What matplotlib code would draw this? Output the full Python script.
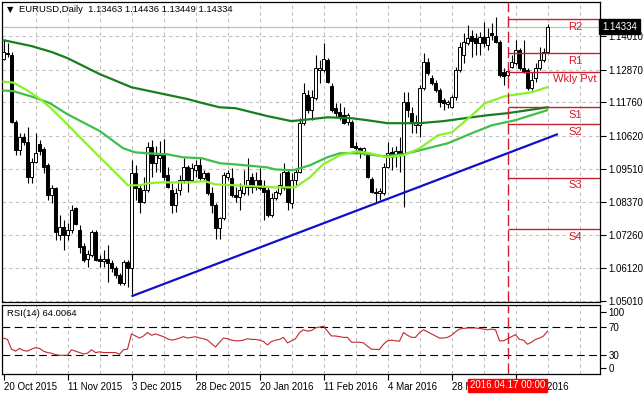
import matplotlib
matplotlib.use('Agg')
import matplotlib.pyplot as plt
import matplotlib.transforms as mtransforms
import numpy as np

plt.rcParams['font.family'] = ['Liberation Sans', 'DejaVu Sans']

# ---- data (EURUSD daily) ----
opens = [1.1323, 1.1343, 1.1337, 1.1109, 1.1013, 1.1058, 1.1041, 1.0922, 1.0973, 1.1034,
         1.1017, 1.0962, 1.0860, 1.0884, 1.0724, 1.0752, 1.0724, 1.0741, 1.0816, 1.0741,
         1.0687, 1.0643, 1.0656, 1.0735, 1.0643, 1.0636, 1.0643, 1.0629, 1.0612, 1.0588,
         1.0561, 1.0633, 1.0612, 1.0935, 1.0884, 1.0837, 1.0877, 1.1024, 1.0969, 1.0986,
         1.0996, 1.0928, 1.0877, 1.0826, 1.0877, 1.0911, 1.0956, 1.0911, 1.0945, 1.0962,
         1.0918, 1.0935, 1.0867, 1.0826, 1.0748, 1.0782, 1.0922, 1.0918, 1.0860, 1.0854,
         1.0867, 1.0888, 1.0922, 1.0888, 1.0911, 1.0888, 1.0877, 1.0792, 1.0850, 1.0867,
         1.0884, 1.0939, 1.0833, 1.0911, 1.0939, 1.1105, 1.1200, 1.1149, 1.1190, 1.1285,
         1.1285, 1.1319, 1.1231, 1.1156, 1.1142, 1.1132, 1.1109, 1.1109, 1.1027, 1.1020,
         1.1010, 1.0996, 1.0915, 1.0871, 1.0867, 1.0867, 1.0956, 1.1007, 1.0996, 1.1010,
         1.1003, 1.1177, 1.1139, 1.1098, 1.1098, 1.1224, 1.1313, 1.1258, 1.1241, 1.1217,
         1.1183, 1.1170, 1.1160, 1.1194, 1.1285, 1.1337, 1.1377, 1.1401, 1.1394, 1.1377,
         1.1398, 1.1370, 1.1411, 1.1401, 1.1381, 1.1279, 1.1268, 1.1296, 1.1309, 1.1353,
         1.1292, 1.1285, 1.1224, 1.1258, 1.1292, 1.1319, 1.13463]
highs = [1.1387, 1.1377, 1.1347, 1.1115, 1.1071, 1.1071, 1.1092, 1.0986, 1.1071, 1.1047,
         1.1024, 1.0969, 1.0894, 1.0888, 1.0792, 1.0775, 1.0765, 1.0826, 1.0820, 1.0758,
         1.0697, 1.0673, 1.0741, 1.0741, 1.0656, 1.0673, 1.0690, 1.0639, 1.0619, 1.0595,
         1.0639, 1.0639, 1.0979, 1.0962, 1.0894, 1.0922, 1.1041, 1.1047, 1.1027, 1.1044,
         1.1051, 1.0956, 1.0901, 1.0884, 1.0928, 1.0986, 1.0962, 1.0969, 1.0979, 1.0990,
         1.0945, 1.0939, 1.0888, 1.0833, 1.0786, 1.0939, 1.0945, 1.0952, 1.0888, 1.0901,
         1.0945, 1.0986, 1.0935, 1.0939, 1.0952, 1.0911, 1.0888, 1.0867, 1.0877, 1.0935,
         1.0969, 1.0945, 1.0935, 1.0952, 1.1122, 1.1241, 1.1217, 1.1217, 1.1337, 1.1319,
         1.1377, 1.1326, 1.1241, 1.1173, 1.1173, 1.1160, 1.1139, 1.1115, 1.1041, 1.1024,
         1.1024, 1.1003, 1.0922, 1.0884, 1.0884, 1.0969, 1.1041, 1.1024, 1.1027, 1.1058,
         1.1211, 1.1211, 1.1160, 1.1132, 1.1234, 1.1343, 1.1326, 1.1268, 1.1251, 1.1224,
         1.1190, 1.1183, 1.1200, 1.1296, 1.1381, 1.1411, 1.1438, 1.1421, 1.1411, 1.1415,
         1.1449, 1.1428, 1.1445, 1.1466, 1.1387, 1.1292, 1.1292, 1.1337, 1.1387, 1.1360,
         1.1387, 1.1292, 1.1279, 1.1309, 1.1364, 1.1360, 1.14436]
lows = [1.1319, 1.1330, 1.1105, 1.0996, 1.0996, 1.1030, 1.0901, 1.0901, 1.0969, 1.0996,
        1.0935, 1.0843, 1.0833, 1.0707, 1.0707, 1.0673, 1.0707, 1.0731, 1.0758, 1.0663,
        1.0633, 1.0616, 1.0650, 1.0636, 1.0616, 1.0616, 1.0565, 1.0599, 1.0578, 1.0554,
        1.0554, 1.0548, 1.0524, 1.0843, 1.0799, 1.0833, 1.0871, 1.0922, 1.0939, 1.0939,
        1.0911, 1.0884, 1.0799, 1.0803, 1.0860, 1.0901, 1.0871, 1.0905, 1.0922, 1.0911,
        1.0911, 1.0860, 1.0799, 1.0711, 1.0711, 1.0775, 1.0911, 1.0854, 1.0837, 1.0809,
        1.0860, 1.0860, 1.0867, 1.0877, 1.0877, 1.0775, 1.0785, 1.0786, 1.0843, 1.0860,
        1.0877, 1.0809, 1.0816, 1.0894, 1.0935, 1.1098, 1.1139, 1.1115, 1.1183, 1.1241,
        1.1279, 1.1241, 1.1142, 1.1126, 1.1115, 1.1102, 1.1098, 1.1024, 1.1003, 1.0986,
        1.0996, 1.0918, 1.0867, 1.0833, 1.0843, 1.0860, 1.0952, 1.0945, 1.0956, 1.0939,
        1.0820, 1.1126, 1.1071, 1.1071, 1.1058, 1.1217, 1.1268, 1.1234, 1.1211, 1.1160,
        1.1149, 1.1156, 1.1156, 1.1183, 1.1279, 1.1309, 1.1370, 1.1330, 1.1337, 1.1337,
        1.1364, 1.1353, 1.1387, 1.1377, 1.1262, 1.1234, 1.1262, 1.1292, 1.1302, 1.1285,
        1.1275, 1.1217, 1.1217, 1.1245, 1.1285, 1.1313, 1.13449]
closes = [1.1347, 1.1340, 1.1109, 1.1013, 1.1058, 1.1041, 1.0922, 1.0973, 1.1003, 1.1010,
          1.0956, 1.0860, 1.0884, 1.0735, 1.0752, 1.0724, 1.0741, 1.0809, 1.0762, 1.0684,
          1.0639, 1.0660, 1.0735, 1.0639, 1.0636, 1.0643, 1.0629, 1.0612, 1.0588, 1.0561,
          1.0633, 1.0612, 1.0935, 1.0884, 1.0837, 1.0877, 1.1024, 1.0969, 1.0996, 1.0996,
          1.0922, 1.0888, 1.0826, 1.0867, 1.0911, 1.0956, 1.0911, 1.0952, 1.0962, 1.0918,
          1.0935, 1.0867, 1.0826, 1.0748, 1.0782, 1.0928, 1.0935, 1.0860, 1.0854, 1.0877,
          1.0894, 1.0911, 1.0888, 1.0911, 1.0884, 1.0871, 1.0792, 1.0850, 1.0871, 1.0894,
          1.0939, 1.0837, 1.0911, 1.0939, 1.1105, 1.1207, 1.1149, 1.1194, 1.1292, 1.1292,
          1.1323, 1.1245, 1.1149, 1.1139, 1.1126, 1.1105, 1.1132, 1.1024, 1.1020, 1.1013,
          1.1020, 1.0922, 1.0871, 1.0867, 1.0874, 1.0956, 1.1003, 1.0990, 1.1010, 1.1003,
          1.1177, 1.1149, 1.1105, 1.1109, 1.1224, 1.1313, 1.1275, 1.1241, 1.1217, 1.1177,
          1.1173, 1.1177, 1.1194, 1.1285, 1.1364, 1.1381, 1.1394, 1.1384, 1.1377, 1.1398,
          1.1377, 1.1398, 1.1404, 1.1381, 1.1268, 1.1265, 1.1282, 1.1313, 1.1353, 1.1292,
          1.1279, 1.1224, 1.1251, 1.1292, 1.1319, 1.1346, 1.14334]

rsi = [54, 52, 38, 35, 39, 36, 35, 38, 40, 39,
       35, 33, 32, 30, 29, 29, 29, 37, 35, 33,
       31, 32, 37, 33, 34, 33, 33, 33, 33, 30.5,
       37, 38, 60, 57, 54, 57, 62, 58, 60, 58,
       56, 53, 51, 52, 54, 56, 54, 55, 56, 54,
       53, 51, 46, 41, 48, 54, 53, 51, 50, 50,
       51, 53, 52, 52, 51, 49, 44, 49, 51, 52,
       55, 47, 50, 53, 62, 66, 64, 65, 68.6, 70,
       71, 64, 57, 57, 56, 55, 55, 48, 48, 48,
       47, 42, 38, 37.6, 37.6, 45, 50, 51, 50, 49.5,
       62, 58, 55, 55, 62, 66, 63, 60, 57, 54,
       54, 55, 58, 63, 67, 68, 68.6, 68.6, 68.6, 68,
       67, 66, 67, 66, 50, 50, 53, 56, 59, 52,
       51, 45, 48, 52, 54, 57, 64]

# moving averages, sampled at bar positions
ma_slow_x = [0, 7, 12, 16, 24, 32, 39, 46, 49, 54, 58, 66, 72, 77, 81, 87, 91, 96, 104, 110, 117, 121, 126, 136]
ma_slow_y = [1.1387, 1.1367, 1.1347, 1.1326, 1.1272, 1.1227, 1.1207, 1.1187, 1.1176, 1.1159, 1.1156, 1.1129,
             1.1112, 1.1119, 1.1125, 1.1122, 1.1115, 1.1105, 1.1105, 1.1112, 1.1125, 1.1132, 1.1139, 1.1159]
ma_mid_x = [0, 2.4, 7.4, 11.6, 15.9, 24.1, 29.9, 32.9, 35.9, 41.1, 44.9, 49.6, 54.1, 57.9, 65.9, 67.9, 72.4,
            76.6, 80.9, 84.1, 89.1, 94.9, 99.9, 104.1, 111.1, 117.1, 122.1, 127.9, 135.9]
ma_mid_y = [1.1216, 1.1214, 1.1194, 1.1173, 1.1136, 1.1078, 1.1020, 1.1006, 1.1003, 1.0999, 1.0989, 1.0986,
            1.0969, 1.0965, 1.0955, 1.0948, 1.0945, 1.0962, 1.0989, 1.1003, 1.1003, 1.0993, 1.0999, 1.1013,
            1.1037, 1.1071, 1.1098, 1.1115, 1.1149]
ma_fast_x = [0, 2.4, 5.9, 9.1, 11.6, 15.9, 19.1, 24.1, 27.9, 31.1, 34.1, 36.1, 39.6, 46.1, 50.4, 52.9, 57.9,
             67.9, 72.9, 76.6, 79.9, 84.1, 88.4, 91.6, 95.9, 99.9, 104.1, 108.6, 112.1, 117.1, 120.4, 125.4,
             132.1, 135.9]
ma_fast_y = [1.1246, 1.1243, 1.1217, 1.1187, 1.1159, 1.1102, 1.1057, 1.0989, 1.0938, 1.0894, 1.0894, 1.0901,
             1.0904, 1.0904, 1.0908, 1.0897, 1.0894, 1.0887, 1.0887, 1.0921, 1.0965, 1.0996, 1.1010, 1.1003,
             1.0989, 1.0996, 1.1020, 1.1064, 1.1074, 1.1132, 1.1173, 1.1197, 1.1210, 1.1227]

trend_x = [32, 138.6]
trend_y = [1.0517, 1.1068]

pivot_names = ['R2', 'R1', 'Wkly Pvt', 'S1', 'S2', 'S3', 'S4']
pivot_levels = [1.1458, 1.1344, 1.1280, 1.1160, 1.1101, 1.0920, 1.0744]
pivot_start = 126

price_ticks = [1.14010, 1.12870, 1.11760, 1.10620, 1.09510, 1.08370, 1.07260, 1.06120, 1.05010]
date_idx = [0, 16, 32, 48, 64, 80, 96, 112, 128]
date_labels = ['20 Oct 2015', '11 Nov 2015', '3 Dec 2015', '28 Dec 2015', '20 Jan 2016',
               '11 Feb 2016', '4 Mar 2016', '28 Mar 2016', '19 Apr 2016']

# ---- layout in pixels ----
W, H = 643, 397
fig = plt.figure(figsize=(W / 100, H / 100), dpi=100)
fig.patch.set_facecolor('white')


def px_axes(x0, y0, x1, y1):
    return fig.add_axes([x0 / W, 1 - y1 / H, (x1 - x0) / W, (y1 - y0) / H])


ax = px_axes(2, 2, 600, 302)
ax2 = px_axes(2, 305, 600, 374)

opens = np.array(opens)
highs = np.array(highs)
lows = np.array(lows)
closes = np.array(closes)
idx = np.arange(len(closes))

xmin, xmax = -0.375, 149.125
grid_col = '#c0c0c0'
gdash = (0, (3, 3))
red = '#d11a2a'

for a in (ax, ax2):
    a.set_xlim(xmin, xmax)
    for s in a.spines.values():
        s.set_color('black')
        s.set_linewidth(0.9)
    for gx in range(8, 150, 8):
        a.axvline(gx, color=grid_col, ls=gdash, lw=0.8, zorder=0)

ax.set_ylim(1.04976, 1.15167)
for gy in price_ticks:
    ax.axhline(gy, color=grid_col, ls=gdash, lw=0.8, zorder=0)

# bid line
ax.axhline(closes[-1], color='#c0c0c0', lw=0.9, zorder=1)

# candles
up = closes >= opens
ax.vlines(idx, lows, highs, color='black', lw=0.8, zorder=3)
body_lo = np.minimum(opens, closes)
body_h = np.maximum(np.abs(closes - opens), 0.00012)
ax.bar(idx, body_h, bottom=body_lo, width=0.65,
       color=np.where(up, 'white', 'black'), edgecolor='black', linewidth=0.7, zorder=4)

# moving averages and trend line
ax.plot(ma_slow_x, ma_slow_y, color='#17801c', lw=1.6, zorder=5)
ax.plot(ma_mid_x, ma_mid_y, color='#3fbf4a', lw=1.6, zorder=5)
ax.plot(ma_fast_x, ma_fast_y, color='#8cf02c', lw=1.6, zorder=5)
ax.plot(trend_x, trend_y, color='#1010c8', lw=1.6, zorder=6, solid_capstyle='butt')

# pivots
ax.hlines(pivot_levels, pivot_start, xmax, color='#c42030', lw=1.0, zorder=6)
for name, lev in zip(pivot_names, pivot_levels):
    ax.annotate(name, xy=(142.9, lev), xytext=(0, -2), textcoords='offset points',
                ha='center', va='top', color=red, fontsize=8, zorder=7)
for a in (ax, ax2):
    a.axvline(pivot_start, color=red, ls=(0, (8, 3)), lw=1.0, zorder=6)

# axes ticks
ax.set_xticks([])
ax.yaxis.tick_right()
ax.set_yticks(price_ticks)
ax.set_yticklabels(['%.5f' % v for v in price_ticks])
ax.tick_params(axis='y', length=4, width=0.8, pad=2, labelsize=7)

blend = mtransforms.blended_transform_factory(ax.transAxes, ax.transData)
ax.text(1.004, closes[-1], '1.14334', transform=blend, ha='left', va='center', color='white',
        fontsize=7, zorder=10, clip_on=False,
        bbox=dict(boxstyle='square,pad=0.3', fc='black', ec='black'))

ax.text(5 / 598, (302 - 10) / 300, '\u25bc', transform=ax.transAxes, ha='left', va='center',
        fontsize=6, family='DejaVu Sans')
ax.text(17 / 598, (302 - 10) / 300, 'EURUSD,Daily  1.13463 1.14436 1.13449 1.14334',
        transform=ax.transAxes, ha='left', va='center', fontsize=6.8)

# RSI panel
ax2.set_ylim(1.9, 101.9)
ax2.plot(idx, rsi, color='#c0282d', lw=0.8, zorder=4)
for lev in (70, 30):
    ax2.axhline(lev, color='black', ls=(0, (7, 4)), lw=0.8, zorder=3)
ax2.yaxis.tick_right()
ax2.set_yticks([91.9, 70, 30, 10.4])
ax2.set_yticklabels(['100', '70', '30', '0'])
ax2.tick_params(axis='y', length=4, width=0.8, pad=2, labelsize=7)
ax2.set_xticks(date_idx)
ax2.set_xticklabels(date_labels, ha='left')
ax2.tick_params(axis='x', length=4, width=0.8, pad=1.5, labelsize=7)
ax2.text(5 / 598, (374 - 314) / 69, 'RSI(14) 64.0064', transform=ax2.transAxes,
         ha='left', va='center', fontsize=6.8)

# time marker label covering the date axis (as in the terminal)
fig.text(507.5 / W, 1 - 385.5 / H, '2016.04.17 00:00', ha='center', va='center', color='white',
         fontsize=7, zorder=10, bbox=dict(boxstyle='square,pad=0.2', fc='#ff0000', ec='#ff0000'))

fig.savefig('out.png', dpi=100, facecolor='white')
